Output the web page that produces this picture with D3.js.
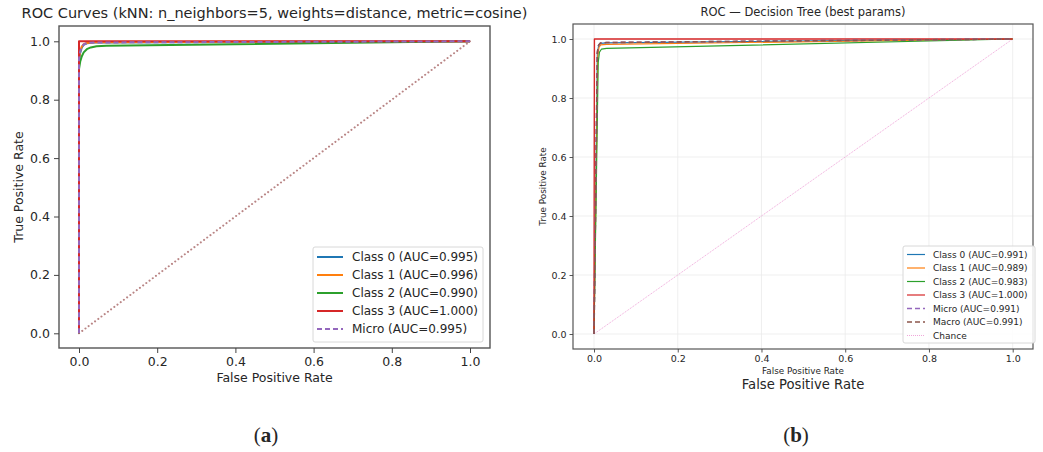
<!DOCTYPE html>
<html><head><meta charset="utf-8">
<script src="https://cdn.jsdelivr.net/npm/d3@7/dist/d3.min.js"></script>
<style>
body{margin:0;background:#fff;}
svg{display:block;}
text{font-family:"DejaVu Sans",sans-serif;fill:#262626;}
</style></head>
<body>
<svg id="c" width="1043" height="452"></svg>
<script>
// ---------- data ----------
const ticks = [0.0, 0.2, 0.4, 0.6, 0.8, 1.0];
const tickLabels = ["0.0", "0.2", "0.4", "0.6", "0.8", "1.0"];

// (a) kNN
const knnTitle = "ROC Curves (kNN: n_neighbors=5, weights=distance, metric=cosine)";
const knnNames = ["Class 0 (AUC=0.995)", "Class 1 (AUC=0.996)", "Class 2 (AUC=0.990)", "Class 3 (AUC=1.000)", "Micro (AUC=0.995)"];
const knnClass0 = [[0,0],[0,0.93],[0.003,0.96],[0.007,0.978],[0.012,0.988],[0.02,0.993],[0.04,0.996],[1,1]];
const knnClass1 = [[0,0],[0,0.94],[0.003,0.966],[0.007,0.982],[0.012,0.99],[0.02,0.994],[0.04,0.997],[1,1]];
const knnClass2 = [[0,0],[0,0.905],[0.003,0.93],[0.007,0.948],[0.012,0.962],[0.02,0.973],[0.03,0.979],[0.045,0.983],[0.07,0.985],[1,1]];
const knnClass3 = [[0,0],[0,1],[1,1]];
const knnMicro  = [[0,0],[0,0.94],[0.003,0.966],[0.007,0.981],[0.012,0.989],[0.02,0.994],[0.04,0.996],[1,1]];
const knnChance = [[0,0],[1,1]];

// (b) Decision Tree
const dtTitle = "ROC \u2014 Decision Tree (best params)";
const dtNames = ["Class 0 (AUC=0.991)", "Class 1 (AUC=0.989)", "Class 2 (AUC=0.983)", "Class 3 (AUC=1.000)", "Micro (AUC=0.991)", "Macro (AUC=0.991)", "Chance"];
const dtClass0 = [[0,0],[0.008,0.95],[0.011,0.978],[0.015,0.985],[0.03,0.987],[1,1]];
const dtClass1 = [[0,0],[0.009,0.94],[0.012,0.972],[0.016,0.98],[0.03,0.982],[1,1]];
const dtClass2 = [[0,0],[0.01,0.92],[0.013,0.955],[0.018,0.966],[0.03,0.968],[1,1]];
const dtClass3 = [[0,0],[0.001,1],[1,1]];
const dtMicro  = [[0,0],[0.008,0.955],[0.011,0.979],[0.015,0.986],[0.03,0.988],[1,1]];
const dtMacro  = [[0,0],[0.008,0.955],[0.011,0.979],[0.015,0.986],[0.03,0.988],[1,1]];
const dtChance = [[0,0],[1,1]];

// ---------- drawing ----------
const svg = d3.select("#c");

function drawPanel(o){
  const g = svg.append("g");
  const x = d3.scaleLinear().domain([0,1]).range([o.x0, o.x1]);
  const y = d3.scaleLinear().domain([0,1]).range([o.y0, o.y1]);

  if (o.grid){
    g.append("g").selectAll("line").data(ticks).join("line")
      .attr("x1", d=>x(d)).attr("x2", d=>x(d)).attr("y1", o.top).attr("y2", o.bottom)
      .attr("stroke", "#ebebeb").attr("stroke-width", 0.8);
    g.append("g").selectAll("line").data(ticks).join("line")
      .attr("y1", d=>y(d)).attr("y2", d=>y(d)).attr("x1", o.left).attr("x2", o.right)
      .attr("stroke", "#ebebeb").attr("stroke-width", 0.8);
  }

  const line = d3.line().x(d=>x(d[0])).y(d=>y(d[1]));
  o.series.forEach(s=>{
    g.append("path").attr("d", line(s.data)).attr("fill","none")
      .attr("stroke", s.color).attr("stroke-width", s.w)
      .attr("stroke-dasharray", s.dash || null)
      .attr("stroke-linecap", s.cap || "butt")
      .attr("stroke-linejoin","round");
  });

  // frame
  g.append("rect").attr("x", o.left).attr("y", o.top).attr("width", o.right-o.left).attr("height", o.bottom-o.top)
    .attr("fill","none").attr("stroke","#555").attr("stroke-width", o.frameW);

  // axes
  const xa = g.append("g").attr("transform", `translate(0,${o.bottom})`)
    .call(d3.axisBottom(x).tickValues(ticks).tickFormat((d,i)=>tickLabels[i]).tickSize(o.tickLen).tickPadding(o.tickPad));
  const ya = g.append("g").attr("transform", `translate(${o.left},0)`)
    .call(d3.axisLeft(y).tickValues(ticks).tickFormat((d,i)=>tickLabels[i]).tickSize(o.tickLen).tickPadding(o.tickPad));
  [xa, ya].forEach(a=>{
    a.select(".domain").remove();
    a.selectAll(".tick line").attr("stroke","#444").attr("stroke-width", o.tickW);
    a.selectAll(".tick text").style("font-family","DejaVu Sans").style("font-size", o.tickFs+"px").attr("fill","#333");
  });

  // title
  g.append("text").attr("x", (o.left+o.right)/2).attr("y", o.titleY).attr("text-anchor","middle")
    .style("font-size", o.titleFs+"px").text(o.title);
  // axis labels
  o.xLabels.forEach(l=>{
    g.append("text").attr("x", (o.left+o.right)/2).attr("y", l.y).attr("text-anchor","middle")
      .style("font-size", l.fs+"px").attr("fill", "#333").text("False Positive Rate");
  });
  g.append("text").attr("transform", `translate(${o.yLabelX},${(o.top+o.bottom)/2}) rotate(-90)`)
    .attr("text-anchor","middle").style("font-size", o.yLabelFs+"px").attr("fill","#333").text("True Positive Rate");

  // legend
  const L = o.legend;
  g.append("rect").attr("x", L.x).attr("y", L.y).attr("width", L.w).attr("height", L.h)
    .attr("rx", 2).attr("fill","#fff").attr("fill-opacity",0.85).attr("stroke","#d8d8d8").attr("stroke-width",1);
  o.legendItems.forEach((it,i)=>{
    const yy = L.firstY + i*L.step;
    g.append("line").attr("x1", L.lx0).attr("x2", L.lx1).attr("y1", yy).attr("y2", yy)
      .attr("stroke", it.color).attr("stroke-width", it.w).attr("stroke-dasharray", it.dash || null)
      .attr("stroke-linecap", it.cap || "butt");
    g.append("text").attr("x", L.tx).attr("y", yy).attr("dy","0.35em")
      .style("font-size", L.fs+"px").attr("fill","#333").text(it.name);
  });
}

const C = {blue:"#1f77b4", orange:"#ff7f0e", green:"#2ca02c", red:"#d62728", purple:"#9467bd", brown:"#8c564b", pink:"#f0a6da"};

// panel (a)
const aSeries = [
  {data: knnChance, color:"#b98585", w:2, dash:"0.1,3.9", cap:"round"},
  {data: knnClass0, color:C.blue, w:2},
  {data: knnClass1, color:C.orange, w:2},
  {data: knnClass2, color:C.green, w:2},
  {data: knnClass3, color:C.red, w:2},
  {data: knnMicro, color:C.purple, w:2, dash:"5,3"}
];
drawPanel({
  x0:79, x1:470, y0:333.3, y1:41.3, left:59, right:490, top:26, bottom:348,
  grid:false, frameW:1.4, tickLen:5, tickPad:4, tickW:1, tickFs:12.5,
  title: knnTitle, titleY:18, titleFs:14.5,
  xLabels:[{y:382, fs:12.5}], yLabelX:23, yLabelFs:12.5,
  series: aSeries,
  legend:{x:313, y:247, w:170, h:95, firstY:257, step:18, lx0:317, lx1:343, tx:352, fs:12},
  legendItems: knnNames.map((n,i)=>({name:n, color:[C.blue,C.orange,C.green,C.red,C.purple][i], w:2, dash: i===4?"5,3":null}))
});

// panel (b)
const bSeries = [
  {data: dtChance, color:C.pink, w:1, dash:"1,1"},
  {data: dtClass0, color:C.blue, w:1.2},
  {data: dtClass1, color:C.orange, w:1.2},
  {data: dtClass2, color:C.green, w:1.2},
  {data: dtClass3, color:C.red, w:1.4},
  {data: dtMicro, color:C.purple, w:1.6, dash:"5,3"},
  {data: dtMacro, color:C.brown, w:1.6, dash:"5,3"}
];
drawPanel({
  x0:594, x1:1012.7, y0:334, y1:39, left:573, right:1033, top:24, bottom:349,
  grid:true, frameW:1.2, tickLen:3.5, tickPad:3, tickW:0.9, tickFs:9.5,
  title: dtTitle, titleY:16, titleFs:11.5,
  xLabels:[{y:374, fs:8.8},{y:389, fs:13.2}], yLabelX:546, yLabelFs:8.8,
  series: bSeries,
  legend:{x:903, y:246, w:132, h:97, firstY:254.5, step:13.5, lx0:907, lx1:925, tx:933, fs:9},
  legendItems: dtNames.map((n,i)=>({name:n,
     color:[C.blue,C.orange,C.green,C.red,C.purple,C.brown,C.pink][i],
     w: i>=4 && i<6 ? 1.6 : 1.2, dash: (i===4||i===5) ? "5,3" : (i===6 ? "1,1" : null)}))
});

// captions
function caption(cx, letter){
  const t = svg.append("text").attr("x", cx).attr("y", 442).attr("text-anchor","middle")
    .style("font-family","'Liberation Serif','DejaVu Serif',serif").style("font-size","21px").attr("fill","#111");
  t.append("tspan").text("(");
  t.append("tspan").style("font-weight","bold").text(letter);
  t.append("tspan").text(")");
}
caption(266, "a");
caption(796, "b");
</script>
</body></html>
